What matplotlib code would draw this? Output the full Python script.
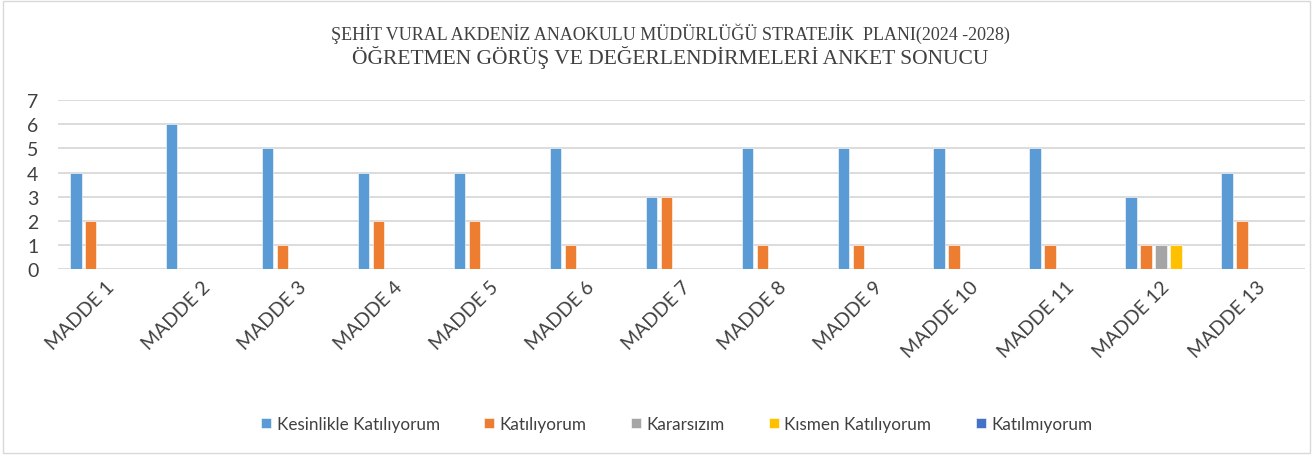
import matplotlib
matplotlib.use("Agg")
import matplotlib.pyplot as plt
from matplotlib.patches import Rectangle
import numpy as np

categories = ["MADDE 1", "MADDE 2", "MADDE 3", "MADDE 4", "MADDE 5", "MADDE 6", "MADDE 7",
              "MADDE 8", "MADDE 9", "MADDE 10", "MADDE 11", "MADDE 12", "MADDE 13"]
series_names = ["Kesinlikle Katılıyorum", "Katılıyorum", "Kararsızım", "Kısmen Katılıyorum", "Katılmıyorum"]
kesinlikle = [4, 6, 5, 4, 4, 5, 3, 5, 5, 5, 5, 3, 4]
katiliyorum = [2, 0, 1, 2, 2, 1, 3, 1, 1, 1, 1, 1, 2]
kararsizim = [0, 0, 0, 0, 0, 0, 0, 0, 0, 0, 0, 1, 0]
kismen = [0, 0, 0, 0, 0, 0, 0, 0, 0, 0, 0, 1, 0]
katilmiyorum = [0, 0, 0, 0, 0, 0, 0, 0, 0, 0, 0, 0, 0]
yticks = [0, 1, 2, 3, 4, 5, 6, 7]
colors = ["#5B9BD5", "#ED7D31", "#A5A5A5", "#FFC000", "#4472C4"]

values = [kesinlikle, katiliyorum, kararsizim, kismen, katilmiyorum]

fig = plt.figure(figsize=(13.14, 4.56), dpi=100)
fig.patches.append(Rectangle((0.002, 0.004), 0.995, 0.991, transform=fig.transFigure,
                             fill=False, edgecolor="#D9D9D9", linewidth=1))
ax = fig.add_axes([0.044, 0.408, 0.949, 0.370])

x = np.arange(len(categories))
slot = 0.156
width = 0.118
for i, (name, vals, c) in enumerate(zip(series_names, values, colors)):
    ax.bar(x + (i - 2) * slot, vals, width=width, color=c, label=name,
           edgecolor="white", linewidth=0.4, zorder=3)

ax.set_xlim(-0.5, len(categories) - 0.5)
ax.set_ylim(0, 7)
ax.set_yticks(yticks)
ax.set_yticklabels([str(v) for v in yticks], fontsize=14, color="#404040", family="Lato")
ax.yaxis.grid(True, color="#D9D9D9", linewidth=1.3, zorder=0)
ax.set_axisbelow(True)
for s in ax.spines.values():
    s.set_visible(False)
ax.tick_params(axis="both", length=0)
ax.tick_params(axis="y", pad=14)
ax.set_xticks(x)
ax.set_xticklabels(categories, rotation=45, ha="right", va="top", rotation_mode="anchor",
                   fontsize=14, color="#404040", family="Lato")
ax.tick_params(axis="x", pad=6)

fig.text(0.51, 0.925, "ŞEHİT VURAL AKDENİZ ANAOKULU MÜDÜRLÜĞÜ STRATEJİK  PLANI(2024 -2028)",
         ha="center", va="center", fontsize=13, family="Liberation Serif", color="#404040")
fig.text(0.51, 0.873, "ÖĞRETMEN GÖRÜŞ VE DEĞERLENDİRMELERİ ANKET SONUCU",
         ha="center", va="center", fontsize=15.5, family="Liberation Serif", color="#404040")

leg = fig.legend(loc="center", bbox_to_anchor=(0.515, 0.068), ncol=5, frameon=False,
                 handlelength=0.6, handleheight=0.6, handletextpad=0.3, columnspacing=2.6,
                 prop={"family": "Lato", "size": 12.3})
for t in leg.get_texts():
    t.set_color("#404040")

fig.savefig("out.png", dpi=100)
